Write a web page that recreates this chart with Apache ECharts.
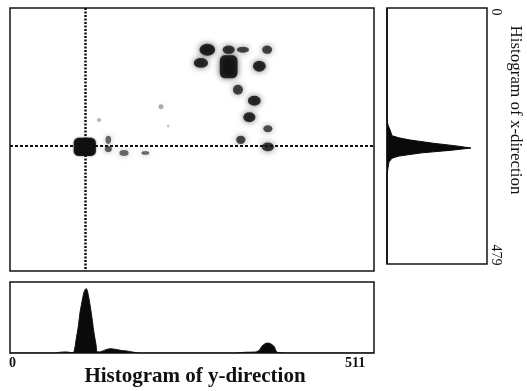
<!DOCTYPE html>
<html>
<head>
<meta charset="utf-8">
<script src="https://cdn.jsdelivr.net/npm/echarts@6/dist/echarts.min.js"></script>
<style>
  html, body { margin: 0; background: #fff; }
  #chart { width: 527px; height: 391px; }
</style>
</head>
<body>
<div id="chart"></div>
<script>
// spots on the image plane (y-direction 0..511 across, x-direction 0..479 down)
const spotY       = [105, 277, 307, 327, 361, 268, 307, 350, 320, 343, 336, 362, 324, 362, 138, 138, 160, 190, 212, 125, 222];
const spotX       = [253,  76,  76,  76,  76, 100, 107, 106, 149, 169, 199, 220, 240, 253, 240, 257, 264, 264, 180, 204, 215];
const spotW       = [ 31,  22,  17,  17,  14,  20,  25,  18,  14,  18,  17,  13,  13,  17,   8,  10,  13,  11,   7,   6,   4];
const spotH       = [ 33,  22,  15,  11,  15,  18,  42,  20,  18,  18,  18,  13,  15,  16,  15,  11,  11,   7,   9,   7,   5];
const spotDensity = [1.0, .95, .80, .75, .75, .85, .95, .85, .75, .85, .85, .70, .75, .80, .60, .65, .60, .60, .35, .30, .25];

// cross hair through the main spot
const crossY = 106;
const crossX = 251;

// histogram of y-direction (projection onto the horizontal axis)
const histYPos   = [0, 63, 70, 79, 87, 90, 93, 96, 98, 101, 104, 107, 109, 112, 115, 118, 121, 122, 126, 133, 140, 149, 157, 166, 174, 183, 316, 330, 345, 350, 354, 358, 362, 366, 371, 373, 375, 379, 393, 511];
const histYCount = [0,  0,  1, 1.5, .5,  2, 20, 38, 55,  72,  86,  91,  86,  70,  50,  28,  10,   2, 1.5,   4,   6,   5, 3.5, 2.5,   1,   0,   0,   1, 1.5,   4,  10,  13,  14,  13,   9,   4,   1,  .5,   0,   0];

// histogram of x-direction (projection onto the vertical axis)
const histXPos   = [0, 210, 219, 228, 239, 243, 247, 253, 258, 262, 266, 271, 277, 281, 288, 299, 312, 479];
const histXCount = [0,   0,   1,   3,   5,  12,  23,  46,  69,  84,  65,  35,  12,   5,   2,   1,   0,   0];

const Y_MAX = 511, X_MAX = 479;
const main = { left: 10, top: 8, width: 364, height: 263 };
const bottom = { left: 10, top: 282, width: 364, height: 71 };
const side = { left: 387, top: 8, width: 100, height: 256 };

const spots = spotY.map((y, i) => [y, spotX[i], spotW[i], spotH[i], spotDensity[i]]);
const histY = histYPos.map((p, i) => [p, histYCount[i]]);
const histX = histXPos.map((p, i) => [histXCount[i], p]);

const chart = echarts.init(document.getElementById('chart'), null, { renderer: 'canvas' });

const gridBox = (g) => Object.assign({
  show: true, borderColor: '#151515', borderWidth: 1.5, backgroundColor: 'transparent'
}, g);

const serif = '"Liberation Serif", "DejaVu Serif", serif';

const option = {
  backgroundColor: '#fff',
  animation: false,
  grid: [gridBox(main), gridBox(bottom), gridBox(side)],
  xAxis: [
    { gridIndex: 0, type: 'value', min: 0, max: Y_MAX, show: false },
    { gridIndex: 1, type: 'value', min: 0, max: Y_MAX, show: false },
    { gridIndex: 2, type: 'value', min: 0, max: 100, show: false }
  ],
  yAxis: [
    { gridIndex: 0, type: 'value', min: 0, max: X_MAX, inverse: true, show: false },
    { gridIndex: 1, type: 'value', min: 0, max: 100, show: false },
    { gridIndex: 2, type: 'value', min: 0, max: X_MAX, inverse: true, show: false }
  ],
  series: [
    {
      type: 'scatter',
      xAxisIndex: 0, yAxisIndex: 0,
      data: spots.map((d, i) => ({
        value: d,
        symbol: (i === 0 || i === 6) ? 'roundRect' : 'circle',
        itemStyle: {
          color: 'rgba(0,0,0,' + Math.min(1, d[4] * 1.15) + ')',
          shadowBlur: i === 0 ? 2 : 6,
          shadowColor: 'rgba(0,0,0,' + (d[4] * 0.85) + ')'
        }
      })),
      symbolSize: (v) => [v[2] * main.width / Y_MAX, v[3] * main.height / X_MAX],
      markLine: {
        silent: true,
        symbol: ['none', 'none'],
        label: { show: false },
        animation: false,
        data: [
          { xAxis: crossY, lineStyle: { color: '#111', width: 2.5, type: [2, 1.5] } },
          { yAxis: crossX, lineStyle: { color: '#111', width: 2, type: [3, 2] } }
        ]
      }
    },
    {
      type: 'line',
      xAxisIndex: 1, yAxisIndex: 1,
      data: histY,
      symbol: 'none',
      smooth: 0.2,
      lineStyle: { color: '#111', width: 1 },
      areaStyle: { color: '#0a0a0a', opacity: 1 }
    },
    {
      type: 'custom',
      xAxisIndex: 2, yAxisIndex: 2,
      data: histX,
      renderItem: (params, api) => {
        if (params.dataIndex !== 0) return null;
        const pts = histX.map((d) => api.coord(d));
        pts.push(api.coord([0, histXPos[histXPos.length - 1]]));
        pts.unshift(api.coord([0, histXPos[0]]));
        return {
          type: 'polygon',
          shape: { points: pts },
          style: { fill: '#0a0a0a', stroke: '#0a0a0a', lineWidth: 1 }
        };
      }
    }
  ],
  graphic: [
    { type: 'text', x: 9, y: 356, style: { text: '0', font: 'bold 14px ' + serif, fill: '#111' } },
    { type: 'text', x: 345, y: 356, style: { text: '511', font: 'bold 14px ' + serif, fill: '#111' } },
    { type: 'text', x: 195, y: 377, style: { text: 'Histogram of y-direction', font: 'bold 21px ' + serif, fill: '#111', align: 'center', verticalAlign: 'middle' } },
    { type: 'text', x: 496, y: 12, rotation: -Math.PI / 2, style: { text: '0', font: '14px ' + serif, fill: '#111', align: 'center', verticalAlign: 'middle' } },
    { type: 'text', x: 496, y: 255, rotation: -Math.PI / 2, style: { text: '479', font: '14px ' + serif, fill: '#111', align: 'center', verticalAlign: 'middle' } },
    { type: 'text', x: 515, y: 110, rotation: -Math.PI / 2, style: { text: 'Histogram of x-direction', font: '17px ' + serif, fill: '#111', align: 'center', verticalAlign: 'middle' } }
  ]
};

chart.setOption(option);
window.addEventListener('resize', chart.resize);
</script>
</body>
</html>
